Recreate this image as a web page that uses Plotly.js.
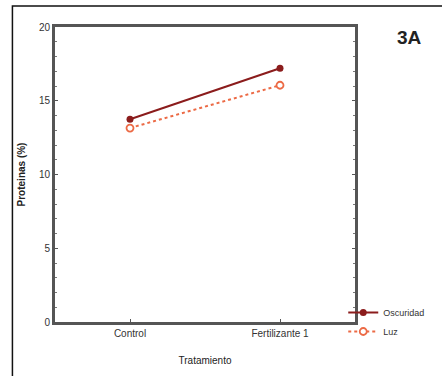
<!DOCTYPE html>
<html>
<head>
<meta charset="utf-8">
<script src="https://cdn.plot.ly/plotly-3.0.1.min.js"></script>
<style>html,body{margin:0;padding:0;background:#fff;}#chart{width:442px;height:376px;}</style>
</head>
<body>
<div id="chart"></div>
<script>
const categories = ["Control", "Fertilizante 1"];
const oscuridad = [13.75, 17.2];
const luz = [13.15, 16.05];
const seriesNames = ["Oscuridad", "Luz"];
const yTicks = [0, 5, 10, 15, 20];

const font = "'Liberation Sans Narrow', 'Liberation Sans', Arial, sans-serif";

const traces = [
  {
    x: categories, y: oscuridad, name: seriesNames[0], type: "scatter", mode: "lines+markers",
    line: {color: "#8b1c1c", width: 2},
    marker: {color: "#8b1c1c", size: 7, symbol: "circle"}
  },
  {
    x: categories, y: luz, name: seriesNames[1], type: "scatter", mode: "lines+markers",
    line: {color: "#ec6a45", width: 2, dash: "dot"},
    marker: {color: "#ffffff", size: 7, symbol: "circle", line: {color: "#ec6a45", width: 1.8}}
  }
];

const layout = {
  width: 442, height: 376,
  margin: {l: 55, r: 84, t: 27, b: 54},
  paper_bgcolor: "#fff", plot_bgcolor: "#fff",
  font: {family: font, size: 10, color: "#333"},
  showlegend: true,
  legend: {x: (434 - 55) / 303, y: 0.0, xanchor: "right", yanchor: "middle",
           font: {size: 9, color: "#333"}, tracegroupgap: 0, itemwidth: 30,
           bgcolor: "rgba(0,0,0,0)"},
  xaxis: {
    type: "category", range: [-0.5, 1.5],
    showline: true, linecolor: "#555", linewidth: 3, mirror: true,
    ticks: "inside", ticklen: 3, tickcolor: "#555", showgrid: false, zeroline: false,
    tickfont: {size: 10, color: "#333"},
    title: {text: "Tratamiento", font: {size: 10, color: "#222", family: font}, standoff: 19}
  },
  yaxis: {
    range: [0, 20], tickvals: yTicks,
    showline: true, linecolor: "#555", linewidth: 3, mirror: "ticks",
    ticks: "inside", ticklen: 3, tickcolor: "#555", showgrid: false, zeroline: false,
    minor: {dtick: 1, ticks: "inside", ticklen: 2, tickcolor: "#777"},
    tickfont: {size: 10, color: "#333"},
    title: {text: "<b>Proteinas (%)</b>", font: {size: 10, color: "#222", family: font}, standoff: 12}
  },
  shapes: [{
    type: "rect", xref: "paper", yref: "paper",
    x0: (12 - 55) / 303, x1: (460 - 55) / 303,
    y0: (322 - 390) / 295, y1: (322 - 6) / 295,
    line: {color: "#111", width: 1.5}, fillcolor: "rgba(0,0,0,0)"
  }],
  annotations: [{
    text: "<b>3A</b>", xref: "paper", yref: "paper",
    x: (413 - 55) / 303, y: (322 - 37) / 295, xanchor: "center", yanchor: "middle",
    showarrow: false, font: {size: 19, color: "#222", family: font}
  }]
};

Plotly.newPlot("chart", traces, layout, {displayModeBar: false, staticPlot: true});
</script>
</body>
</html>
